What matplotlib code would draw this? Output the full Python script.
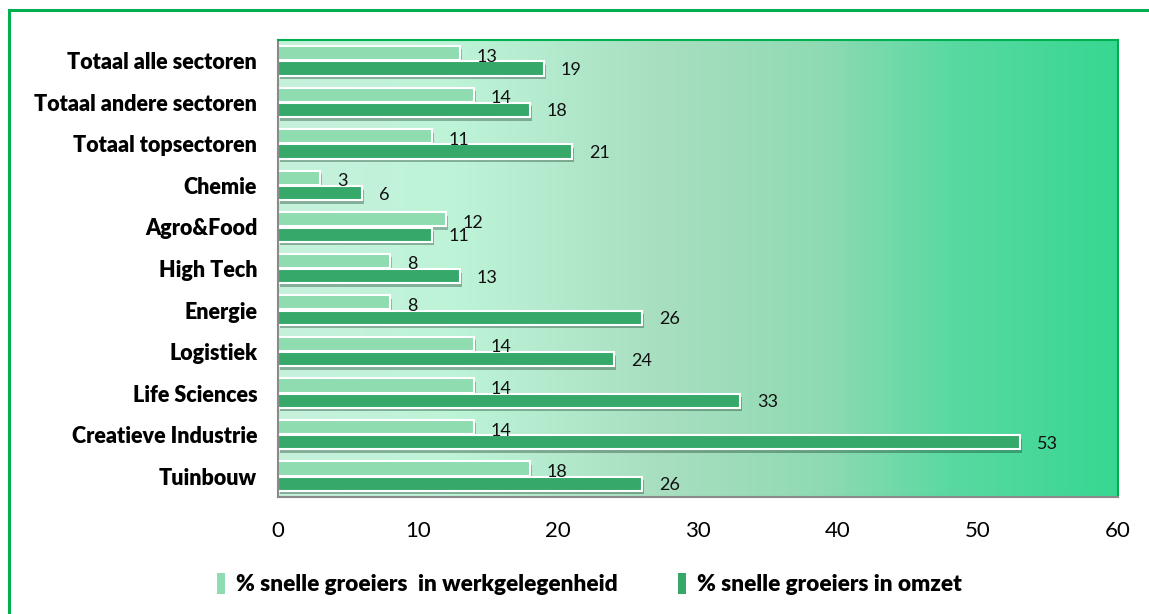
"""Staafdiagram snelle groeiers per topsector."""

import numpy as np
import matplotlib.pyplot as plt
from matplotlib.colors import LinearSegmentedColormap
from matplotlib.lines import Line2D
from matplotlib.patches import Patch
import matplotlib.patheffects as pe

sectoren = [
    "Totaal alle sectoren",
    "Totaal andere sectoren",
    "Totaal topsectoren",
    "Chemie",
    "Agro&Food",
    "High Tech",
    "Energie",
    "Logistiek",
    "Life Sciences",
    "Creatieve Industrie",
    "Tuinbouw",
]
werkgelegenheid = [13, 14, 11, 3, 12, 8, 8, 14, 14, 14, 18]
omzet = [19, 18, 21, 6, 11, 13, 26, 24, 33, 53, 26]
x_ticks = [0, 10, 20, 30, 40, 50, 60]

LICHT = "#8fdcb1"
DONKER = "#36a86a"
RAND = "#00b050"

plt.rcParams["font.family"] = ["Lato", "DejaVu Sans"]

fig = plt.figure(figsize=(11.49, 6.14), dpi=100)
ax = fig.add_axes([278 / 1149, 1 - 497 / 614, 840 / 1149, 457 / 614])

# Achtergrond: verloop van lichtgroen naar felgroen
kleuren = [
    (0.0, "#c6f1dc"),
    (0.2, "#bef4d8"),
    (0.45, "#a9dfc1"),
    (0.65, "#8fdab3"),
    (0.8, "#5ad9a2"),
    (1.0, "#37d792"),
]
cmap = LinearSegmentedColormap.from_list("achtergrond", kleuren)
verloop = np.linspace(0, 1, 512).reshape(1, -1)
ax.imshow(verloop, cmap=cmap, aspect="auto", extent=[0, 60, -0.5, 10.5],
          zorder=0, interpolation="bicubic")

y = np.arange(len(sectoren))
hoogte = 0.34
schaduw = [pe.SimplePatchShadow(offset=(1.5, -2.5), alpha=0.35), pe.Normal()]

b1 = ax.barh(y - 0.185, werkgelegenheid, height=hoogte, color=LICHT,
             edgecolor="white", linewidth=1.5, zorder=2)
b2 = ax.barh(y + 0.185, omzet, height=hoogte, color=DONKER,
             edgecolor="white", linewidth=1.5, zorder=2)
for bar in list(b1) + list(b2):
    bar.set_path_effects(schaduw)

for yi, w, o in zip(y, werkgelegenheid, omzet):
    ax.text(w + 1.2, yi - 0.1, str(w), va="center", ha="left",
            fontsize=13, color="#111111", zorder=3)
    ax.text(o + 1.2, yi + 0.22, str(o), va="center", ha="left",
            fontsize=13, color="#111111", zorder=3)

ax.set_xlim(0, 60)
ax.set_ylim(10.5, -0.5)
ax.set_xticks(x_ticks)
ax.set_xticklabels([str(t) for t in x_ticks], fontsize=16)
ax.set_yticks(y)
ax.set_yticklabels(sectoren, fontsize=15.5, fontweight="heavy")
ax.tick_params(axis="both", length=0)
ax.tick_params(axis="x", pad=17)
ax.tick_params(axis="y", pad=15)

ax.spines["top"].set_color(RAND)
ax.spines["right"].set_color(RAND)
ax.spines["left"].set_color("#8a8a8a")
ax.spines["bottom"].set_color("#8a8a8a")
for s in ax.spines.values():
    s.set_linewidth(1.5)

handles = [Patch(facecolor=LICHT, edgecolor="none"),
           Patch(facecolor=DONKER, edgecolor="none")]
fig.legend(handles, ["% snelle groeiers  in werkgelegenheid",
                     "% snelle groeiers in omzet"],
           loc="center", bbox_to_anchor=(0.513, 1 - 584 / 614), ncol=2,
           frameon=False, handlelength=0.35, handleheight=1.1,
           handletextpad=0.45, columnspacing=2.7,
           prop={"weight": "heavy", "size": 16.3})

# Groene kader rond de grafiek
fig.add_artist(Line2D([8.5 / 1149, 8.5 / 1149], [0, 1 - 10 / 614],
                      color=RAND, linewidth=2.2, transform=fig.transFigure))
fig.add_artist(Line2D([8.5 / 1149, 1], [1 - 10 / 614, 1 - 10 / 614],
                      color=RAND, linewidth=2.2, transform=fig.transFigure))

fig.savefig("out.png", dpi=100)
